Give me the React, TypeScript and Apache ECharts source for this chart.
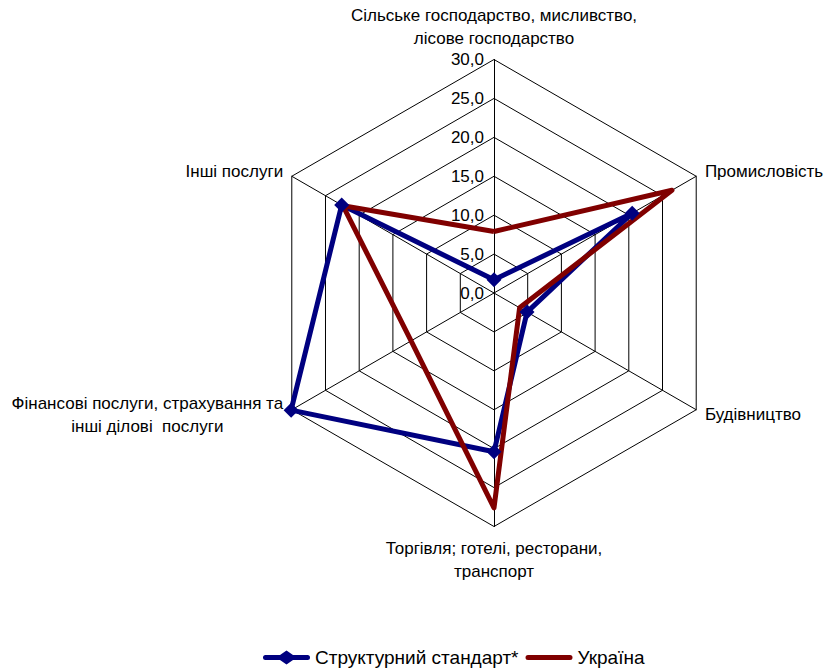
import React, { useEffect, useRef } from 'react';
import * as echarts from 'echarts';

// Categories in the reference's clockwise order, starting at the top
const categories = [
  'Сільське господарство, мисливство,\nлісове господарство',
  'Промисловість',
  'Будівництво',
  'Торгівля; готелі, ресторани,\nтранспорт',
  'Фінансові послуги, страхування та\nінші ділові  послуги',
  'Інші послуги',
];
const standard = [1.7, 20.5, 4.9, 20.4, 30.1, 22.6];
const ukraine = [7.9, 26.4, 3.8, 27.6, 12.3, 22.4];
const seriesNames = ['Структурний стандарт*', 'Україна'];
const axisMin = 0;
const axisMax = 30;
const axisStep = 5;

const FONT = "'Liberation Sans', Arial, sans-serif";
const BLUE = '#000080';
const RED = '#800000';

// ECharts places radar indicators counter-clockwise; reorder to appear clockwise.
const order = [0, 5, 4, 3, 2, 1];
const pick = (arr: any[]) => order.map((i) => arr[i]);

export default function App() {
  const ref = useRef<HTMLDivElement>(null);
  useEffect(() => {
    if (!ref.current) return;
    const chart = echarts.init(ref.current, null, { renderer: 'svg' });
    const center = [494, 293];
    const radius = 233.5;
    const option: any = {
      animation: false,
      backgroundColor: '#ffffff',
      textStyle: { fontFamily: FONT },
      legend: {
        left: 258,
        top: 643,
        itemWidth: 47,
        itemHeight: 14,
        itemGap: 7,
        selectedMode: false,
        textStyle: { fontSize: 19, color: '#000', fontFamily: FONT },
        data: [
          {
            name: seriesNames[0],
            icon: 'path://M0,0M47,14M2.5,4.5L17,4.5L23.5,0L30,4.5L44.5,4.5A2.5,2.5,0,0,1,44.5,9.5L30,9.5L23.5,14L17,9.5L2.5,9.5A2.5,2.5,0,0,1,2.5,4.5Z',
            itemStyle: { color: BLUE, borderWidth: 0 },
          },
          {
            name: seriesNames[1],
            icon: 'path://M0,0M47,14M2.5,4.5L44.5,4.5A2.5,2.5,0,0,1,44.5,9.5L2.5,9.5A2.5,2.5,0,0,1,2.5,4.5Z',
            itemStyle: { color: RED, borderWidth: 0 },
          },
        ],
      },
      polar: { center, radius },
      angleAxis: { type: 'value', startAngle: 90, min: 0, max: 360, show: false },
      radiusAxis: {
        type: 'value',
        min: axisMin,
        max: axisMax,
        interval: axisStep,
        axisLine: { show: false },
        axisTick: { show: false },
        splitLine: { show: false },
        axisLabel: {
          show: true,
          margin: 10,
          color: '#000',
          fontSize: 17,
          fontFamily: FONT,
          formatter: (v: number) => v.toFixed(1).replace('.', ','),
        },
      },
      radar: {
        center,
        radius,
        startAngle: 90,
        splitNumber: (axisMax - axisMin) / axisStep,
        shape: 'polygon',
        nameGap: 10,
        indicator: pick(categories).map((name) => ({ name, min: axisMin, max: axisMax })),
        axisName: {
          color: '#000',
          fontSize: 17,
          fontFamily: FONT,
          formatter: (name: string) =>
            name
              .split('\n')
              .map((l) => `{c|${l}}`)
              .join('\n'),
          rich: {
            c: { align: 'center', fontSize: 17, lineHeight: 23, color: '#000', fontFamily: FONT },
          },
        },
        axisLine: { lineStyle: { color: '#000', width: 1 } },
        splitLine: { lineStyle: { color: '#000', width: 1 } },
        splitArea: { show: false },
        axisTick: { show: false },
        axisLabel: { show: false },
      },
      series: [
        {
          type: 'radar',
          silent: true,
          z: 2,
          data: [
            {
              name: seriesNames[0],
              value: pick(standard),
              symbol: 'none',
              lineStyle: { color: BLUE, width: 5, join: 'round' },
              itemStyle: { color: BLUE },
            },
          ],
        },
        {
          type: 'radar',
          silent: true,
          z: 3,
          data: [
            {
              name: seriesNames[1],
              value: pick(ukraine),
              symbol: 'none',
              lineStyle: { color: RED, width: 5, join: 'round' },
              itemStyle: { color: RED },
            },
          ],
        },
        {
          type: 'radar',
          silent: true,
          z: 4,
          data: [
            {
              name: seriesNames[0],
              value: pick(standard),
              symbol: 'diamond',
              symbolSize: 15,
              lineStyle: { width: 0, opacity: 0 },
              itemStyle: { color: BLUE },
            },
          ],
        },
      ],
    };
    chart.setOption(option);
    return () => chart.dispose();
  }, []);
  return (
    <div
      ref={ref}
      style={{ position: 'fixed', left: 0, top: 0, width: 828, height: 671, background: '#fff' }}
    />
  );
}
